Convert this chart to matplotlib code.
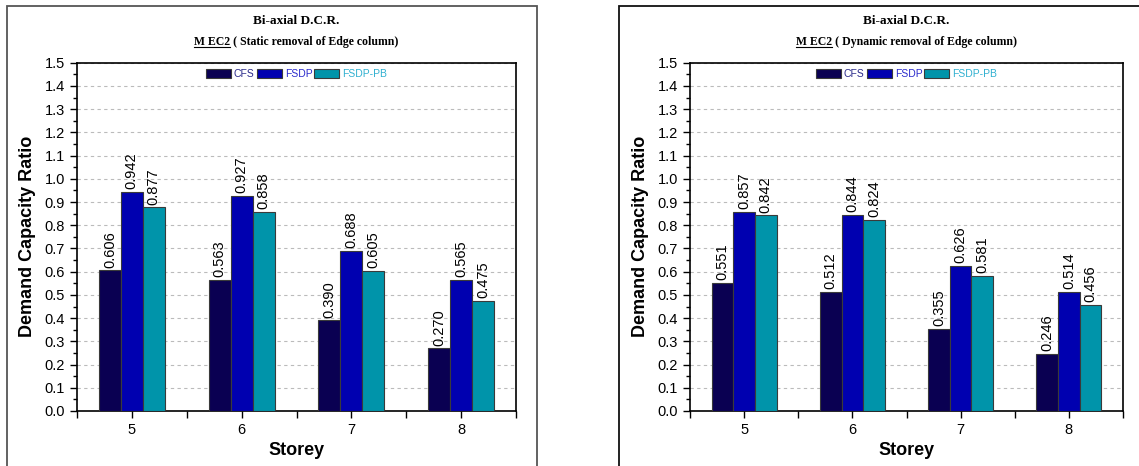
import matplotlib.pyplot as plt
from matplotlib.patches import Rectangle
from matplotlib.ticker import MultipleLocator, FixedLocator
from matplotlib.lines import Line2D

storeys = ['5', '6', '7', '8']
series = ['CFS', 'FSDP', 'FSDP-PB']

static_cfs = [0.606, 0.563, 0.390, 0.270]
static_fsdp = [0.942, 0.927, 0.688, 0.565]
static_fsdp_pb = [0.877, 0.858, 0.605, 0.475]

dynamic_cfs = [0.551, 0.512, 0.355, 0.246]
dynamic_fsdp = [0.857, 0.844, 0.626, 0.514]
dynamic_fsdp_pb = [0.842, 0.824, 0.581, 0.456]

bar_colors = ['#0a0052', '#0000b0', '#0094aa']
text_colors = ['#2a2a8a', '#2a2acc', '#30b0d0']

plt.rcParams['font.family'] = ['Liberation Sans', 'DejaVu Sans']

W, H = 1139, 466
fig = plt.figure(figsize=(W / 100, H / 100), dpi=100)

# panel frames
fig.patches.append(Rectangle((7 / W, -0.05), 530 / W, 1.05 - 6 / H, transform=fig.transFigure,
                             fill=False, edgecolor='#555555', linewidth=1.3))
fig.patches.append(Rectangle((619 / W, -0.05), 530 / W, 1.05 - 6 / H, transform=fig.transFigure,
                             fill=False, edgecolor='#111111', linewidth=1.3))


def draw_panel(left_px, right_px, values, subtitle):
    ax = fig.add_axes([left_px / W, 55 / H, (right_px - left_px) / W, 348.3 / H])
    x = range(len(storeys))
    pos = [5 + i for i in x]
    w = 0.2
    for j, vals in enumerate(values):
        xs = [p + (j - 1) * w for p in pos]
        bars = ax.bar(xs, vals, width=w, color=bar_colors[j], edgecolor='#3a3a3a',
                      linewidth=0.8, label=series[j], zorder=3)
        for b, v in zip(bars, vals):
            ax.annotate(f'{v:.3f}', (b.get_x() + b.get_width() / 2, v), xytext=(0, 2),
                        textcoords='offset points', rotation=90, ha='center', va='bottom',
                        fontsize=10.5, zorder=4)
    ax.set_xlim(4.5, 8.5)
    ax.set_ylim(0, 1.5)
    ax.set_xticks(pos)
    ax.set_xticklabels(storeys)
    ax.xaxis.set_minor_locator(FixedLocator([4.5, 5.5, 6.5, 7.5, 8.5]))
    ax.yaxis.set_major_locator(MultipleLocator(0.1))
    ax.yaxis.set_minor_locator(MultipleLocator(0.05))
    ax.yaxis.set_major_formatter(plt.FormatStrFormatter('%.1f'))
    ax.tick_params(axis='both', which='major', direction='out', length=5, width=1, labelsize=10.5)
    ax.tick_params(axis='x', which='minor', direction='out', length=5, width=1)
    ax.tick_params(axis='y', which='minor', direction='out', length=3, width=1)
    ax.grid(axis='y', which='major', linestyle=(0, (3, 3)), color='#bbbbbb', linewidth=0.8, zorder=0)
    for s in ax.spines.values():
        s.set_linewidth(1.2)
    ax.set_xlabel('Storey', fontsize=13, fontweight='bold', labelpad=4)
    ax.set_ylabel('Demand Capacity Ratio', fontsize=13, fontweight='bold', labelpad=6)
    leg = ax.legend(loc='upper center', bbox_to_anchor=(0.5, 1.0), ncol=3, frameon=False,
                    fontsize=7.5, handlelength=2.4, handleheight=1.0, handletextpad=0.3,
                    columnspacing=0.2, borderaxespad=0.2)
    for t, c in zip(leg.get_texts(), text_colors):
        t.set_color(c)

    cx = (left_px + right_px) / 2 / W
    fig.text(cx, 1 - 21 / H, 'Bi-axial D.C.R.', ha='center', va='center',
             family='Liberation Serif', fontweight='bold', fontsize=9.5)
    t2 = fig.text(cx, 1 - 42 / H, 'M EC2 ( ' + subtitle + ')', ha='center', va='center',
                  family='Liberation Serif', fontweight='bold', fontsize=8.5)
    r = fig.canvas.get_renderer()
    bb = t2.get_window_extent(r)
    tmp = fig.text(0, 0, 'M EC2', family='Liberation Serif', fontweight='bold', fontsize=8.5)
    wpx = tmp.get_window_extent(r).width
    tmp.remove()
    yline = (bb.y0 + 1) / H
    fig.add_artist(Line2D([bb.x0 / W, (bb.x0 + wpx) / W], [yline, yline],
                          transform=fig.transFigure, color='black', linewidth=0.8))
    return ax


draw_panel(77, 516, [static_cfs, static_fsdp, static_fsdp_pb], 'Static removal of Edge column')
draw_panel(690, 1123, [dynamic_cfs, dynamic_fsdp, dynamic_fsdp_pb], 'Dynamic removal of Edge column')

fig.savefig('out.png', dpi=100)
